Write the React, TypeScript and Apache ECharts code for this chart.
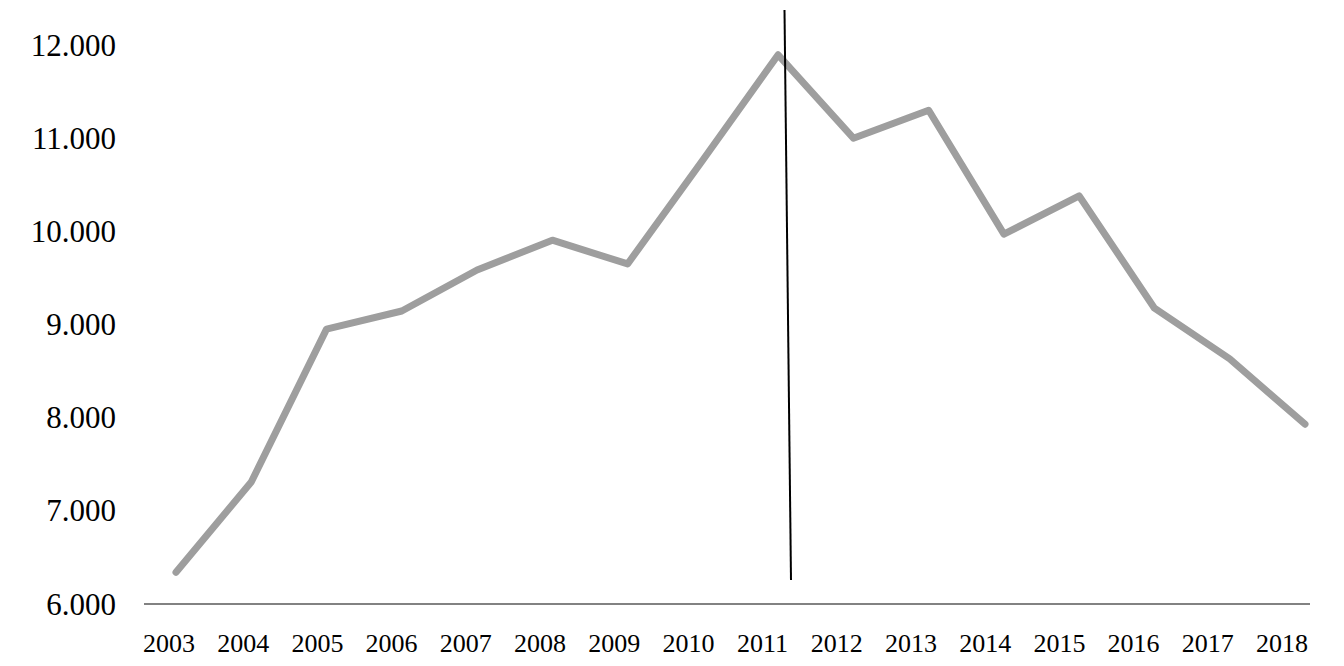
import * as echarts from 'echarts';
import { useEffect, useRef } from 'react';

const years = [
  '2003', '2004', '2005', '2006', '2007', '2008', '2009', '2010',
  '2011', '2012', '2013', '2014', '2015', '2016', '2017', '2018',
];

const values = [
  6340, 7310, 8950, 9145, 9585, 9905, 9650, 10765,
  11895, 11000, 11300, 9970, 10380, 9175, 8630, 7930,
];

const yMin = 6000;
const yMax = 12000;
const yStep = 1000;

const fontFamily = '"Liberation Serif", "Times New Roman", serif';

const formatTick = (value: number) => value.toLocaleString('de-DE');

const App = () => {
  const chartRef = useRef<HTMLDivElement>(null);

  useEffect(() => {
    if (!chartRef.current) return;

    const chart = echarts.init(chartRef.current, undefined, { renderer: 'svg' });

    const option = {
      animation: false,
      backgroundColor: '#ffffff',
      graphic: [
        // baseline of the plot area
        {
          type: 'line',
          shape: { x1: 144, y1: 604, x2: 1310, y2: 604 },
          style: { stroke: '#595959', lineWidth: 1.3 },
          silent: true,
        },
        // hand-drawn vertical marker
        {
          type: 'line',
          shape: { x1: 784.5, y1: 10, x2: 791, y2: 580 },
          style: { stroke: '#000000', lineWidth: 2 },
          silent: true,
          z: 10,
        },
      ],
      grid: [
        { left: 176, right: 39, top: 45, bottom: 62 },
        { left: 169, right: 62, top: 45, bottom: 62 },
      ],
      series: [
        {
          data: values,
          lineStyle: {
            cap: 'round',
            color: '#9e9e9e',
            join: 'round',
            width: 7,
          },
          showSymbol: false,
          symbol: 'none',
          type: 'line',
          xAxisIndex: 0,
          yAxisIndex: 0,
        },
      ],
      xAxis: [
        {
          axisLabel: { show: false },
          axisLine: { show: false },
          axisTick: { show: false },
          boundaryGap: false,
          data: years,
          gridIndex: 0,
          type: 'category',
        },
        {
          axisLabel: {
            color: '#000000',
            fontFamily,
            fontSize: 26,
            interval: 0,
            margin: 26,
          },
          axisLine: { show: false },
          axisTick: { show: false },
          boundaryGap: false,
          data: years,
          gridIndex: 1,
          type: 'category',
        },
      ],
      yAxis: [
        {
          axisLabel: {
            color: '#000000',
            fontFamily,
            fontSize: 31,
            formatter: formatTick,
            margin: 60,
          },
          axisLine: { show: false },
          axisTick: { show: false },
          gridIndex: 0,
          interval: yStep,
          max: yMax,
          min: yMin,
          splitLine: { show: false },
          type: 'value',
        },
        {
          axisLabel: { show: false },
          axisLine: { show: false },
          axisTick: { show: false },
          gridIndex: 1,
          max: yMax,
          min: yMin,
          splitLine: { show: false },
          type: 'value',
        },
      ],
    };

    chart.setOption(option);

    const handleResize = () => {
      chart.resize();
    };

    window.addEventListener('resize', handleResize);

    return () => {
      window.removeEventListener('resize', handleResize);
      chart.dispose();
    };
  }, []);

  return (
    <div
      ref={chartRef}
      style={{ height: 666, left: 0, position: 'absolute', top: 0, width: 1344 }}
    />
  );
};

export default App;
